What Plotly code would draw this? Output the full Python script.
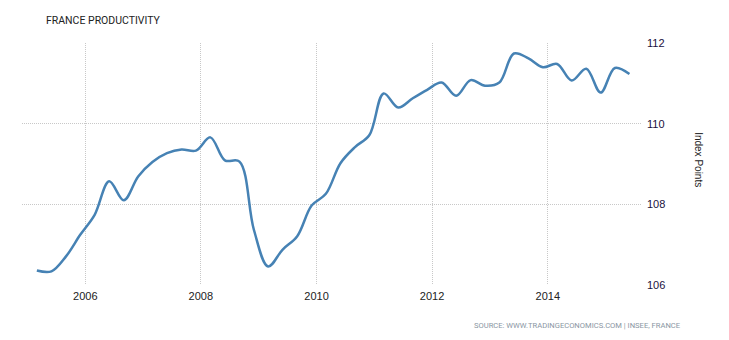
import plotly.graph_objects as go

# Quarterly productivity index, Q1 2005 - Q2 2015
quarters = [
    "2005-03-01", "2005-06-01", "2005-09-01", "2005-12-01",
    "2006-03-01", "2006-06-01", "2006-09-01", "2006-12-01",
    "2007-03-01", "2007-06-01", "2007-09-01", "2007-12-01",
    "2008-03-01", "2008-06-01", "2008-09-01", "2008-12-01",
    "2009-03-01", "2009-06-01", "2009-09-01", "2009-12-01",
    "2010-03-01", "2010-06-01", "2010-09-01", "2010-12-01",
    "2011-03-01", "2011-06-01", "2011-09-01", "2011-12-01",
    "2012-03-01", "2012-06-01", "2012-09-01", "2012-12-01",
    "2013-03-01", "2013-06-01", "2013-09-01", "2013-12-01",
    "2014-03-01", "2014-06-01", "2014-09-01", "2014-12-01",
    "2015-03-01", "2015-06-01",
]
productivity = [
    106.36, 106.34, 106.71, 107.25,
    107.74, 108.57, 108.10, 108.69,
    109.05, 109.27, 109.36, 109.33,
    109.66, 109.09, 109.06, 107.37,
    106.46, 106.88, 107.21, 107.97,
    108.26, 109.02, 109.42, 109.72,
    110.75, 110.40, 110.63, 110.84,
    111.02, 110.69, 111.08, 110.94,
    111.02, 111.74, 111.62, 111.40,
    111.48, 111.07, 111.36, 110.77,
    111.38, 111.23,
]
year_ticks = ["2006-01-01", "2008-01-01", "2010-01-01", "2012-01-01", "2014-01-01"]
year_labels = ["2006", "2008", "2010", "2012", "2014"]
value_ticks = [106, 108, 110, 112]

fig = go.Figure(
    go.Scatter(
        x=quarters,
        y=productivity,
        mode="lines",
        line=dict(color="#4682b4", width=2.5, shape="spline", smoothing=1),
        hoverinfo="x+y",
    )
)

grid = dict(showgrid=True, gridcolor="#c8c8c8", gridwidth=1, griddash="1px,1px", zeroline=False)

fig.update_layout(
    width=729,
    height=340,
    margin=dict(l=22, r=88, t=43, b=55),
    paper_bgcolor="white",
    plot_bgcolor="white",
    showlegend=False,
    xaxis=dict(
        range=["2004-11-27", "2015-08-13"],
        tickvals=year_ticks,
        ticktext=year_labels,
        tickfont=dict(family="Liberation Sans, Arial, sans-serif", size=11, color="#222"),
        ticks="",
        ticklabelstandoff=3,
        showline=False,
        **grid,
    ),
    yaxis=dict(
        range=[106, 112],
        side="right",
        tickvals=value_ticks,
        tickfont=dict(family="Liberation Sans, Arial, sans-serif", size=11, color="#1a1040"),
        ticks="",
        ticklabelstandoff=5,
        showline=False,
        **grid,
    ),
    annotations=[
        dict(
            text="FRANCE PRODUCTIVITY",
            xref="paper", yref="paper", x=22 / 619, y=1,
            xanchor="left", yanchor="bottom", yshift=14,
            showarrow=False,
            font=dict(family="Roboto, sans-serif", size=10.5, color="#222"),
        ),
        dict(
            text="Index Points",
            xref="paper", yref="paper", x=1, y=0.52,
            xanchor="center", yanchor="middle", xshift=58,
            textangle=90,
            showarrow=False,
            font=dict(family="Liberation Sans, Arial, sans-serif", size=10, color="#222"),
        ),
        dict(
            text="SOURCE: WWW.TRADINGECONOMICS.COM | INSEE, FRANCE",
            xref="paper", yref="paper", x=1, y=0,
            xanchor="right", yanchor="top", xshift=42, yshift=-34,
            showarrow=False,
            font=dict(family="Roboto, sans-serif", size=7.6, color="#8a96a3"),
        ),
    ],
)

fig.write_html("out.html")
